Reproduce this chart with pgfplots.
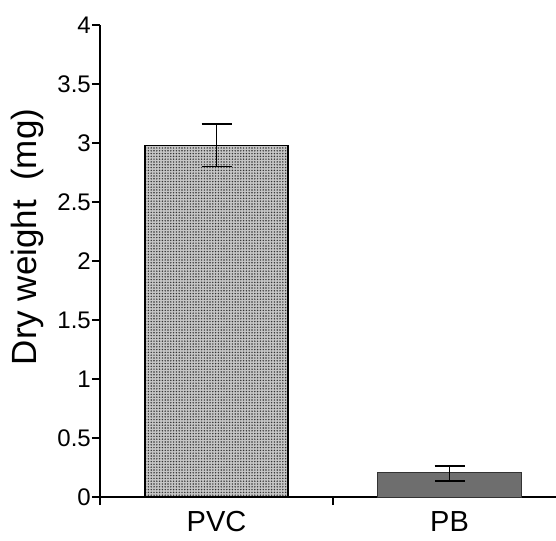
\documentclass[border=0pt]{standalone}
\usepackage{fontspec}
\setmainfont{Liberation Sans}
\usepackage{pgfplots}
\pgfplotsset{compat=1.18}
\usetikzlibrary{patterns.meta}
\begin{document}
\begin{tikzpicture}
\begin{axis}[
  scale only axis,
  width=456pt, height=472pt,
  xmin=-0.5, xmax=1.457,
  ymin=0, ymax=4,
  axis lines*=left,
  axis line style={line width=1.3pt},
  tick align=outside,
  major tick length=8pt,
  tick style={line width=1.1pt, black},
  xtick={-0.5,0.5}, xticklabels={},
  extra x ticks={0,1},
  extra x tick labels={PVC,PB},
  extra x tick style={major tick length=0pt, xticklabel style={font=\fontsize{29}{32}\selectfont, inner sep=0pt, yshift=-14pt, anchor=north}},
  ytick={0,0.5,1,1.5,2,2.5,3,3.5,4},
  yticklabels={0,0.5,1,1.5,2,2.5,3,3.5,4},
  yticklabel style={font=\fontsize{24}{28}\selectfont, inner sep=1pt},
  /pgf/number format/assume math mode=true,
  ylabel={Dry weight\hspace{0.55em}(mg)},
  ylabel style={font=\fontsize{35}{38}\selectfont, at={(axis description cs:-0.16,0.551)}, rotate=0, anchor=center},
  clip=false,
]
\addplot[ybar, bar width=143pt, bar shift=0pt, draw=black, line width=1.4pt,
  fill=gray!45, postaction={pattern={Dots[distance=2.8pt,radius=0.8pt]}, pattern color=black!80},
  error bars/.cd, y dir=both, y explicit,
  error bar style={line width=1.3pt, black},
  error mark options={rotate=90, mark size=15pt, line width=1.3pt, black}]
  coordinates {(0,2.98) +- (0,0.18)};
\addplot[ybar, bar width=144pt, bar shift=0pt, draw=black!80, line width=1pt,
  fill={rgb,255:red,110;green,110;blue,110},
  error bars/.cd, y dir=both, y explicit,
  error bar style={line width=1.3pt, black},
  error mark options={rotate=90, mark size=15pt, line width=1.3pt, black}]
  coordinates {(1,0.21) += (0,0.053) -= (0,0.074)};
\end{axis}
\pgfresetboundingbox
\path (-100pt,-43pt) rectangle (456pt,497pt);
\end{tikzpicture}
\end{document}
